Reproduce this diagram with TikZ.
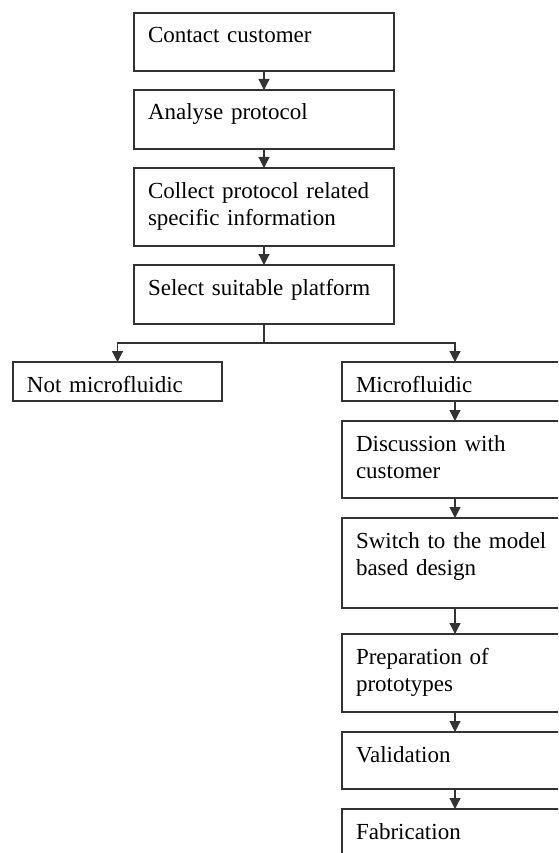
\documentclass[tikz,border=0pt]{standalone}
\usepackage{fontspec}
\setmainfont{Liberation Serif}
\usetikzlibrary{arrows.meta}

\begin{document}
\begin{tikzpicture}[x=1pt,y=-1pt,inner sep=0pt,outer sep=0pt,
    every node/.style={font=\fontsize{23}{27}\selectfont},
    stepbox/.style={draw=black!80,line width=1.2pt,anchor=north west,inner xsep=14pt,inner ysep=0pt,align=left,text height=30pt,text width=#1},
    flow/.style={draw=black!80,line width=1.2pt,-{Triangle[length=11pt,width=11pt]}}]
    \useasboundingbox (0,0) rectangle (558,853);
    \clip (0,0) rectangle (558,853);
    % main column
    \node[stepbox=232pt,text depth=28pt] (contact) at (134,13) {Contact customer};
    \node[stepbox=232pt,text depth=29pt] (analyse) at (134,90) {Analyse protocol};
    \node[stepbox=232pt,text depth=48pt] (collect) at (134,168) {Collect protocol related\\specific information};
    \node[stepbox=232pt,text depth=29pt] (select) at (134,265) {Select suitable platform};
    % branches
    \node[stepbox=181pt,text depth=9pt] (notmicro) at (13,362) {Not microfluidic};
    \node[stepbox=198pt,text depth=9pt] (micro) at (342,362) {Microfluidic};
    \node[stepbox=198pt,text depth=47pt] (discuss) at (342,421) {Discussion with\\customer};
    \node[stepbox=198pt,text depth=60pt] (switch) at (342,518) {Switch to the model\\based design};
    \node[stepbox=198pt,text depth=48pt] (prep) at (342,634) {Preparation of\\prototypes};
    \node[stepbox=198pt,text depth=27pt] (valid) at (342,732) {Validation};
    \node[stepbox=198pt,text depth=30pt] (fab) at (342,809) {Fabrication};
    % connectors
    \draw[flow] (contact) -- (analyse);
    \draw[flow] (analyse) -- (collect);
    \draw[flow] (collect) -- (select);
    \draw[flow] (select.south) -- ++(0,19) -| (notmicro.north);
    \draw[flow] (select.south) -- ++(0,19) -| (micro.north);
    \draw[flow] (micro) -- (discuss);
    \draw[flow] (discuss) -- (switch);
    \draw[flow] (switch) -- (prep);
    \draw[flow] (prep) -- (valid);
    \draw[flow] (valid) -- (fab);
\end{tikzpicture}
\end{document}
